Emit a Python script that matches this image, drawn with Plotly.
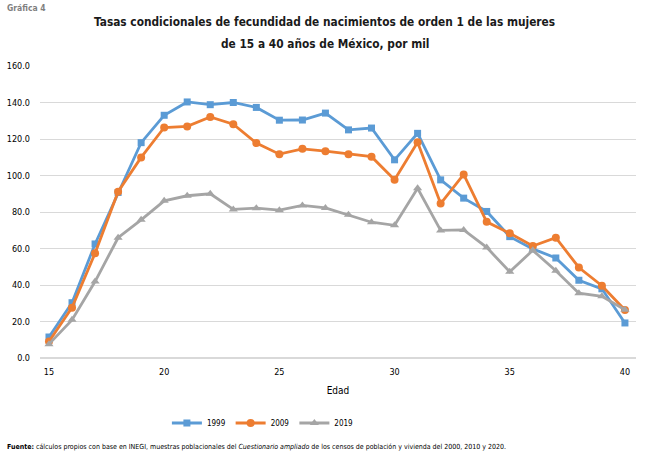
import plotly.graph_objects as go

ages = list(range(15, 41))
y1999 = [11.5, 30.3, 62.5, 90.7, 118.0, 133.0, 140.3, 138.8, 140.0, 137.3, 130.3, 130.4, 134.2,
         125.0, 126.0, 108.6, 123.1, 97.6, 87.6, 80.3, 66.5, 59.8, 54.8, 42.6, 37.9, 19.2]
y2009 = [9.0, 27.6, 57.4, 91.1, 109.9, 126.3, 126.9, 132.1, 128.1, 117.8, 111.7, 114.6, 113.3,
         111.6, 110.3, 97.7, 118.2, 84.6, 100.6, 74.6, 68.3, 61.4, 65.9, 49.6, 39.6, 26.3]
y2019 = [7.6, 20.9, 41.9, 65.9, 75.7, 86.1, 88.9, 90.0, 81.4, 82.1, 81.0, 83.6, 82.2,
         78.5, 74.4, 72.7, 93.0, 69.9, 70.2, 60.6, 47.2, 59.0, 47.8, 35.5, 33.8, 26.4]
xticks = [15, 20, 25, 30, 35, 40]

FONT = "DejaVu Sans Condensed, DejaVu Sans, sans-serif"

series = [
    ("1999", y1999, "#5B9BD5", "square", 7),
    ("2009", y2009, "#ED7D31", "circle", 8),
    ("2019", y2019, "#A5A5A5", "triangle-up", 8),
]

fig = go.Figure()
for name, ys, col, sym, sz in series:
    fig.add_trace(go.Scatter(
        x=ages, y=ys, name=name, mode="lines+markers",
        line=dict(color=col, width=2.8),
        marker=dict(symbol=sym, size=sz, color=col),
    ))

fig.update_layout(
    width=650, height=453,
    margin=dict(l=40, r=14, t=66, b=95),
    paper_bgcolor="white", plot_bgcolor="white",
    font=dict(family=FONT, color="#000000", size=9),
    xaxis=dict(
        range=[14.61, 40.48], tickvals=xticks, showgrid=False, zeroline=False,
        showline=False, ticks="", tickfont=dict(size=9, color="#000"),
        ticklabelstandoff=7, automargin=False,
        title=dict(text="Edad", font=dict(size=10), standoff=10),
    ),
    yaxis=dict(
        range=[0, 160], dtick=20, tickformat=".1f", showgrid=True,
        gridcolor="#D9D9D9", gridwidth=1, zeroline=True, zerolinecolor="#D9D9D9",
        zerolinewidth=1.5, showline=False, ticks="", ticklabelstandoff=9,
        tickfont=dict(size=9, color="#000"), automargin=False,
    ),
    legend=dict(
        orientation="h", x=0.374, xanchor="center", y=-0.2226, yanchor="middle",
        font=dict(size=8), itemwidth=30, traceorder="normal",
    ),
    showlegend=True,
)

title_lines = [
    "Tasas condicionales de fecundidad de nacimientos de orden 1 de las mujeres",
    "de 15 a 40 años de México, por mil",
]
for txt, yp in zip(title_lines, [1.1507, 1.0753]):
    fig.add_annotation(
        text="<b>" + txt + "</b>", xref="paper", yref="paper", x=0.478, y=yp,
        xanchor="center", yanchor="middle", showarrow=False,
        font=dict(family=FONT, size=11.8, color="#1a1a1a"),
    )

fig.add_annotation(
    text="<b>Gráfica 4</b>", xref="paper", yref="paper", x=-0.0587, y=1.1986,
    xanchor="left", yanchor="middle", showarrow=False,
    font=dict(family=FONT, size=8.5, color="#7f7f7f"),
)
fig.add_annotation(
    text="<b>Fuente:</b> cálculos propios con base en INEGI, muestras poblacionales del <i>Cuestionario ampliado</i> de los censos de población y vivienda del 2000, 2010 y 2020.",
    xref="paper", yref="paper", x=-0.0587, y=-0.3048,
    xanchor="left", yanchor="middle", showarrow=False,
    font=dict(family=FONT, size=7, color="#000"),
)

fig.write_html("out.html", config={"displayModeBar": False},
               post_script="document.body.style.margin='0';")
